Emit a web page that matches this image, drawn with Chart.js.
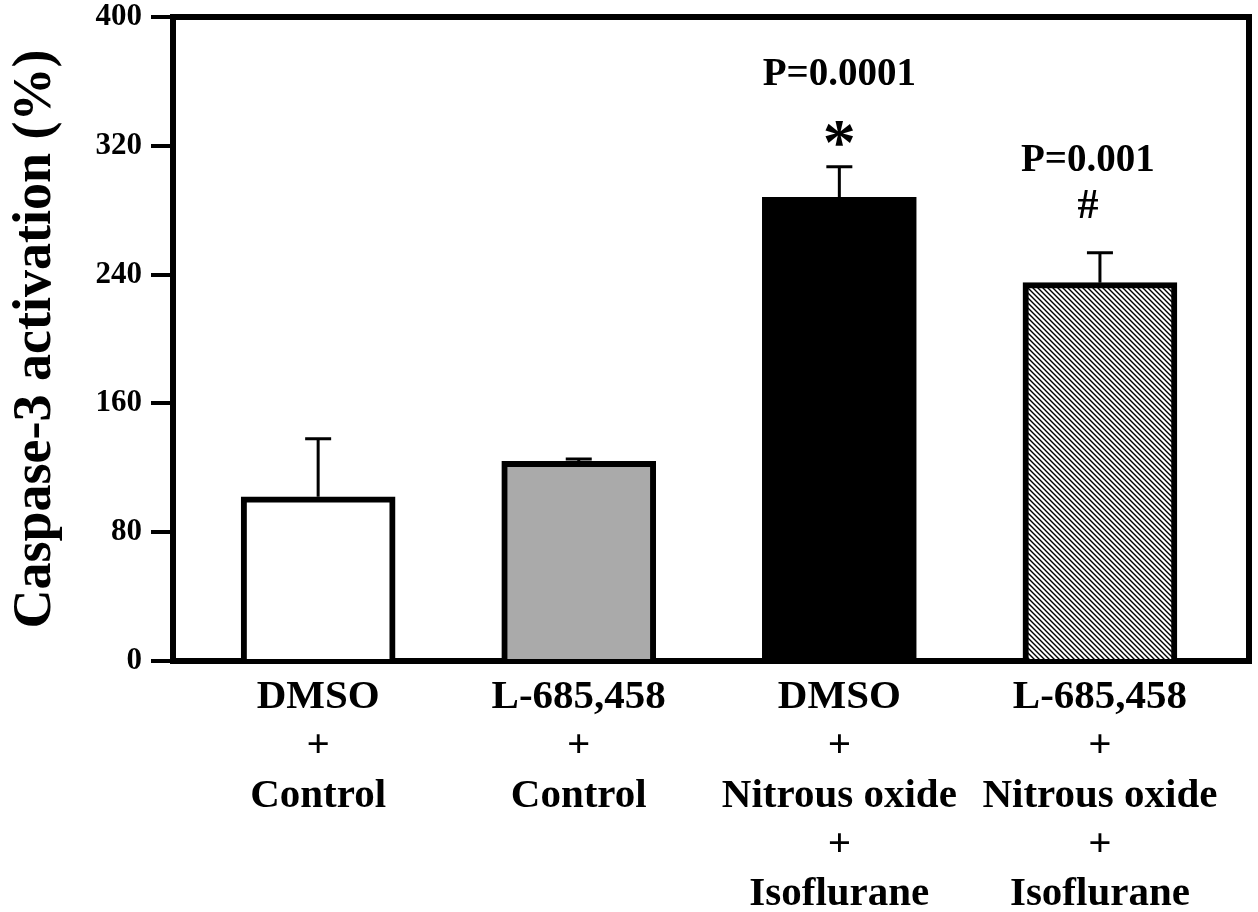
<!DOCTYPE html>
<html>
<head>
<meta charset="utf-8">
<script src="https://cdn.jsdelivr.net/npm/chart.js@4/dist/chart.umd.min.js"></script>
<style>
  html, body { margin: 0; padding: 0; background: #fff; }
  #wrap { width: 1258px; height: 912px; position: relative; }
</style>
</head>
<body>
<div id="wrap"><canvas id="chart"></canvas></div>
<script>
const xLabels = [
  ["DMSO", "+", "Control"],
  ["L-685,458", "+", "Control"],
  ["DMSO", "+", "Nitrous oxide", "+", "Isoflurane"],
  ["L-685,458", "+", "Nitrous oxide", "+", "Isoflurane"],
];
const xPositions = [1, 2, 3, 4];
const caspase = [102, 124, 288, 235];
const caspaseErr = [36, 1.5, 19, 18.5];
const pLabels = ["", "", "P=0.0001", "P=0.001"];
const sigMarks = ["", "", "*", "#"];
const yTicks = [0, 80, 160, 240, 320, 400];

const SERIF = "'Liberation Serif', 'Times New Roman', serif";

function hatch() {
  const c = document.createElement("canvas");
  c.width = 5;
  c.height = 5;
  const g = c.getContext("2d");
  g.fillStyle = "#fff";
  g.fillRect(0, 0, 5, 5);
  g.strokeStyle = "#000";
  g.lineWidth = 1.4;
  g.beginPath();
  g.moveTo(-1, -1); g.lineTo(6, 6);
  g.moveTo(-1, 4); g.lineTo(1, 6);
  g.moveTo(4, -1); g.lineTo(6, 1);
  g.stroke();
  return g.createPattern(c, "repeat");
}

// top/right frame of the plot box
const frame = {
  id: "frame",
  afterDraw(chart) {
    const { ctx, chartArea: a } = chart;
    ctx.save();
    ctx.strokeStyle = "#000";
    ctx.lineWidth = 6;
    ctx.lineCap = "square";
    ctx.beginPath();
    ctx.moveTo(a.left, a.top);
    ctx.lineTo(a.right, a.top);
    ctx.lineTo(a.right, a.bottom);
    ctx.stroke();
    ctx.restore();
  },
};

// error bars + significance text, positioned from the scales
const errorBars = {
  id: "errorBars",
  afterDatasetsDraw(chart) {
    const { ctx } = chart;
    const ys = chart.scales.y;
    const meta = chart.getDatasetMeta(0);
    ctx.save();
    meta.data.forEach((bar, i) => {
      const top = ys.getPixelForValue(caspase[i] + caspaseErr[i]);
      ctx.strokeStyle = "#000";
      ctx.lineWidth = 3;
      ctx.beginPath();
      ctx.moveTo(bar.x, bar.y);
      ctx.lineTo(bar.x, top);
      ctx.moveTo(bar.x - 13, top);
      ctx.lineTo(bar.x + 13, top);
      ctx.stroke();

      ctx.fillStyle = "#000";
      ctx.textAlign = "center";
      ctx.textBaseline = "middle";
      const dx = i === 3 ? -12 : 0;
      if (sigMarks[i] === "*") {
        ctx.font = "bold 66px " + SERIF;
        ctx.fillText("*", bar.x, top - 20);
      } else if (sigMarks[i]) {
        ctx.font = "bold 42px " + SERIF;
        ctx.fillText(sigMarks[i], bar.x + dx, top - 46);
      }
      if (pLabels[i]) {
        ctx.font = "bold 39px " + SERIF;
        ctx.fillText(pLabels[i], bar.x + dx, top - 92);
      }
    });
    ctx.restore();
  },
};

new Chart(document.getElementById("chart"), {
  type: "bar",
  data: {
    datasets: [
      {
        data: xPositions.map((x, i) => ({ x, y: caspase[i] })),
        backgroundColor: ["#ffffff", "#aaaaaa", "#000000", hatch()],
        borderColor: "#000",
        borderWidth: 6,
        barThickness: 154,
      },
    ],
  },
  plugins: [frame, errorBars],
  options: {
    responsive: true,
    maintainAspectRatio: false,
    animation: false,
    layout: { padding: { left: 0, top: 17, right: 9, bottom: 0 } },
    plugins: { legend: { display: false }, tooltip: { enabled: false } },
    scales: {
      x: {
        type: "linear",
        offset: false,
        min: 0.443,
        max: 4.572,
        afterBuildTicks: (s) => { s.ticks = xPositions.map((v) => ({ value: v })); },
        afterFit: (s) => { s.height = 251; },
        grid: { display: false, offset: false },
        border: { display: true, color: "#000", width: 6 },
        ticks: {
          autoSkip: false,
          maxRotation: 0,
          padding: 4,
          color: "#000",
          font: { family: SERIF, size: 41, weight: "bold", lineHeight: 1.2 },
          callback: (v) => xLabels[xPositions.indexOf(v)],
        },
      },
      y: {
        min: 0,
        max: 400,
        afterBuildTicks: (s) => { s.ticks = yTicks.map((v) => ({ value: v })); },
        afterFit: (s) => {
          s.width = 173;
          s.paddingTop = 0;
          s.paddingBottom = 0;
        },
        grid: {
          drawOnChartArea: false,
          drawTicks: true,
          tickLength: 22,
          lineWidth: 4,
          color: "#000",
        },
        border: { display: true, color: "#000", width: 6 },
        ticks: {
          padding: 9,
          color: "#000",
          font: { family: SERIF, size: 31, weight: "bold" },
        },
        title: {
          display: true,
          text: "Caspase-3 activation (%)",
          color: "#000",
          padding: { top: 4, bottom: 0 },
          font: { family: SERIF, size: 54, weight: "bold", lineHeight: 1.2 },
        },
      },
    },
  },
});
</script>
</body>
</html>
